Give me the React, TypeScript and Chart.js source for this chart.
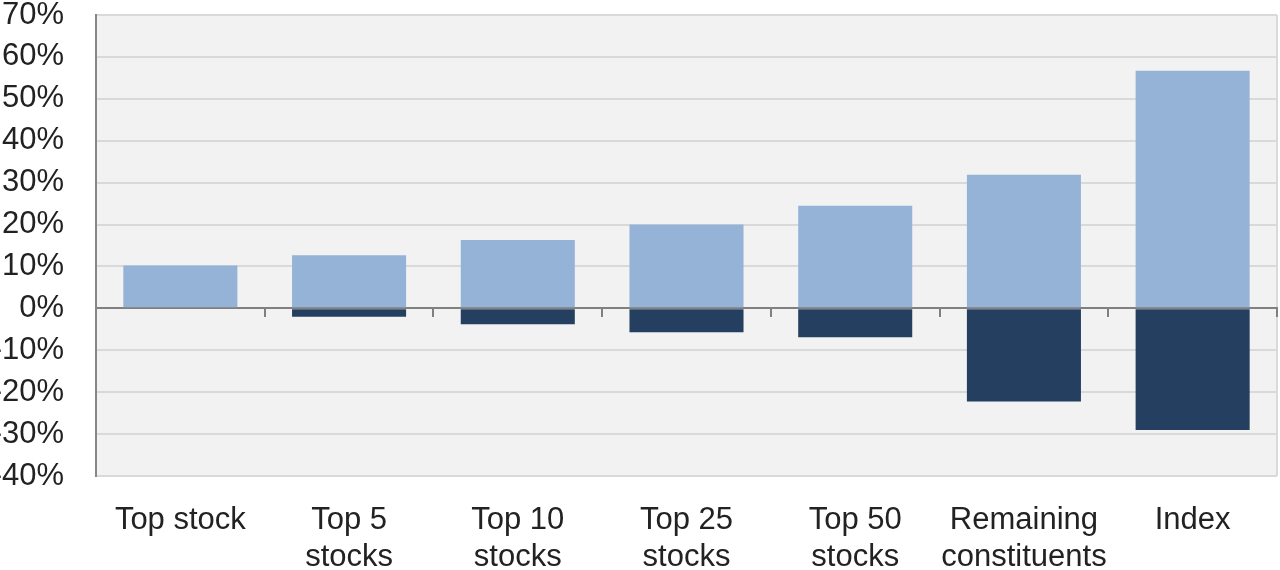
import React, { useEffect, useRef } from 'react';
import { Chart, registerables } from 'chart.js';

Chart.register(...registerables);

const categories: string[][] = [
  ['Top stock'],
  ['Top 5', 'stocks'],
  ['Top 10', 'stocks'],
  ['Top 25', 'stocks'],
  ['Top 50', 'stocks'],
  ['Remaining', 'constituents'],
  ['Index'],
];
const positiveValues = [10.2, 12.7, 16.3, 20.0, 24.5, 31.9, 56.7];
const negativeValues = [0, -2.0, -3.8, -5.7, -6.9, -22.2, -29.0];
const yMin = -40;
const yMax = 70;
const yStep = 10;

const FONT = '"Liberation Sans", Arial, sans-serif';

// fills the plot area grey and draws its right edge
const plotBackground = {
  id: 'plotBackground',
  beforeDraw: (chart: Chart) => {
    const { ctx, chartArea } = chart;
    if (!chartArea) return;
    ctx.save();
    ctx.fillStyle = '#f2f2f2';
    ctx.fillRect(chartArea.left, chartArea.top, chartArea.right - chartArea.left, chartArea.bottom - chartArea.top);
    ctx.strokeStyle = '#d9d9d9';
    ctx.lineWidth = 2;
    ctx.beginPath();
    ctx.moveTo(chartArea.right, chartArea.top);
    ctx.lineTo(chartArea.right, chartArea.bottom);
    ctx.stroke();
    ctx.restore();
  },
};

const App: React.FC = () => {
  const chartRef = useRef<HTMLCanvasElement | null>(null);
  const chartInstanceRef = useRef<Chart | null>(null);

  useEffect(() => {
    if (!chartRef.current) return;

    if (chartInstanceRef.current) {
      chartInstanceRef.current.destroy();
    }

    chartInstanceRef.current = new Chart(chartRef.current, {
      type: 'bar',
      data: {
        labels: categories,
        datasets: [
          {
            label: 'Positive',
            data: positiveValues,
            backgroundColor: '#95b3d7',
            borderWidth: 0,
            categoryPercentage: 1,
            barPercentage: 0.676,
          },
          {
            label: 'Negative',
            data: negativeValues,
            backgroundColor: '#243f60',
            borderWidth: 0,
            categoryPercentage: 1,
            barPercentage: 0.676,
          },
        ],
      },
      options: {
        responsive: true,
        maintainAspectRatio: false,
        animation: false,
        devicePixelRatio: 1,
        layout: { padding: { top: 15, right: 3, left: 0, bottom: 0 } },
        scales: {
          x: {
            stacked: true,
            grid: { display: false },
            border: { display: false },
            ticks: {
              autoSkip: false,
              maxRotation: 0,
              padding: 18,
              color: '#222',
              font: { family: FONT, size: 31, lineHeight: 1.19 },
            },
            afterFit: (scale: any) => {
              scale.height = 94;
            },
          },
          // zero line with the small category ticks hanging below it
          x2: {
            type: 'category',
            labels: categories.map((c) => c.join(' ')),
            position: { y: 0 } as any,
            z: 1,
            offset: true,
            grid: {
              offset: true,
              drawOnChartArea: false,
              drawTicks: true,
              tickLength: 8,
              color: '#808080',
              lineWidth: 2,
            },
            border: { display: true, color: '#808080', width: 2 },
            ticks: { display: false },
            afterFit: (scale: any) => {
              scale.height = 0;
            },
          },
          y: {
            stacked: true,
            min: yMin,
            max: yMax,
            grid: { color: '#d9d9d9', lineWidth: 2, drawTicks: false },
            border: { display: true, color: '#868686', width: 2 },
            ticks: {
              stepSize: yStep,
              padding: 32,
              color: '#222',
              font: { family: FONT, size: 31, lineHeight: 1 },
              callback: (value) => `${value}%`,
            },
            afterFit: (scale: any) => {
              scale.width = 96;
              scale.paddingTop = 0;
              scale.paddingBottom = 0;
            },
          },
        },
        plugins: {
          legend: { display: false },
          tooltip: { enabled: false },
        },
      },
      plugins: [plotBackground],
    });

    return () => {
      chartInstanceRef.current?.destroy();
      chartInstanceRef.current = null;
    };
  }, []);

  return (
    <div style={{ position: 'absolute', left: 0, top: 0, width: 1280, height: 570, background: '#fff' }}>
      <canvas ref={chartRef}></canvas>
    </div>
  );
};

export default App;
